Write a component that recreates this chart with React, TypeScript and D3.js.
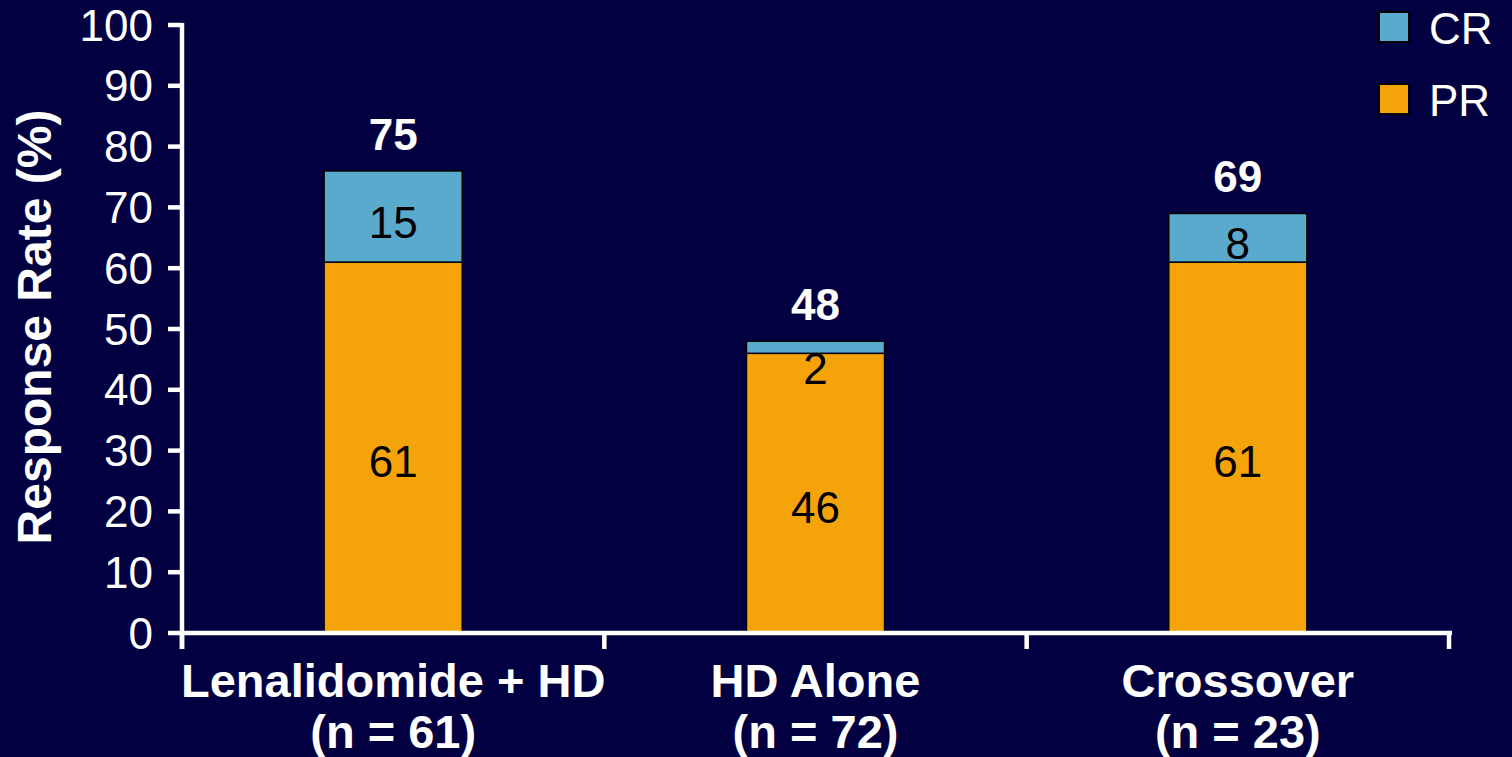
import React from "react";
import * as d3 from "d3";

// Response rates by treatment arm (%)
const groups = ["Lenalidomide + HD", "HD Alone", "Crossover"];
const groupN = ["(n = 61)", "(n = 72)", "(n = 23)"];
const prValues = [61, 46, 61];
const crValues = [15, 2, 8];
const totalLabels = [75, 48, 69];
const yTicks = [0, 10, 20, 30, 40, 50, 60, 70, 80, 90, 100];
const seriesNames = ["CR", "PR"];

const W = 1512;
const H = 757;
const BG = "#020040";
const CR_COLOR = "#5AAACE";
const PR_COLOR = "#F5A30B";
const FONT = "'Liberation Sans', Arial, Helvetica, sans-serif";

const margin = { left: 182, right: 63, top: 25, bottom: 124 };

export default function App() {
  const x = d3
    .scaleBand<string>()
    .domain(groups)
    .range([margin.left, W - margin.right])
    .padding(0);
  const y = d3
    .scaleLinear()
    .domain([0, 100])
    .range([H - margin.bottom, margin.top]);

  const barW = x.bandwidth() * 0.327;
  const y0 = y(0);
  const tickX = [...groups.map((g) => x(g)!), x(groups[groups.length - 1])! + x.bandwidth()];
  const colorOf: Record<string, string> = { CR: CR_COLOR, PR: PR_COLOR };

  return (
    <svg
      width={W}
      height={H}
      style={{ position: "absolute", left: 0, top: 0, display: "block" }}
      fontFamily={FONT}
    >
      <rect x={0} y={0} width={W} height={H} fill={BG} />

      {/* Bars */}
      {groups.map((g, i) => {
        const cx = x(g)! + x.bandwidth() / 2;
        const bx = cx - barW / 2;
        const prTop = y(prValues[i]);
        const crTop = y(prValues[i] + crValues[i]);
        const crH = prTop - crTop;
        const prMid = (prTop + y0) / 2;
        const crLabelY = crH < 30 ? prTop + 15 : (crTop + prTop) / 2 + 6;
        return (
          <g key={g}>
            <rect x={bx} y={prTop} width={barW} height={y0 - prTop} fill={PR_COLOR} stroke="#000" strokeWidth={1.5} />
            <rect x={bx} y={crTop} width={barW} height={crH} fill={CR_COLOR} stroke="#000" strokeWidth={1.5} />
            <text x={cx} y={prMid + 14} textAnchor="middle" dominantBaseline="central" fontSize={44} fill="#000">
              {prValues[i]}
            </text>
            <text x={cx} y={crLabelY} textAnchor="middle" dominantBaseline="central" fontSize={44} fill="#000">
              {crValues[i]}
            </text>
            <text x={cx} y={crTop - 21} textAnchor="middle" fontSize={44} fontWeight="bold" fill="#fff">
              {totalLabels[i]}
            </text>
          </g>
        );
      })}

      {/* Y axis */}
      <line x1={margin.left} x2={margin.left} y1={y(100) - 2} y2={y0 + 16} stroke="#fff" strokeWidth={4.5} />
      {yTicks.map((t) => (
        <g key={t}>
          <line x1={margin.left - 14} x2={margin.left} y1={y(t)} y2={y(t)} stroke="#fff" strokeWidth={4.5} />
          <text x={margin.left - 29} y={y(t)} textAnchor="end" dominantBaseline="central" fontSize={44} fill="#fff">
            {t}
          </text>
        </g>
      ))}
      <text
        transform={`translate(${51},${y(50) - 2}) rotate(-90)`}
        textAnchor="middle"
        fontSize={48}
        fontWeight="bold"
        fill="#fff"
      >
        Response Rate (%)
      </text>

      {/* X axis */}
      <line x1={margin.left - 2} x2={W - margin.right + 3} y1={y0} y2={y0} stroke="#fff" strokeWidth={4.5} />
      {tickX.map((tx, i) => (
        <line key={i} x1={tx} x2={tx} y1={y0} y2={y0 + 16} stroke="#fff" strokeWidth={4.5} />
      ))}
      {groups.map((g, i) => {
        const cx = x(g)! + x.bandwidth() / 2;
        return (
          <text key={g} x={cx} textAnchor="middle" fontSize={47} fontWeight="bold" fill="#fff">
            <tspan x={cx} y={697}>{g}</tspan>
            <tspan x={cx} y={748}>{groupN[i]}</tspan>
          </text>
        );
      })}

      {/* Legend */}
      {seriesNames.map((s, i) => (
        <g key={s} transform={`translate(1379,${12 + i * 72})`}>
          <rect x={0} y={0} width={30} height={30} fill={colorOf[s]} stroke="#000" strokeWidth={2} />
          <text x={50} y={32} fontSize={44} fill="#fff">
            {s}
          </text>
        </g>
      ))}
    </svg>
  );
}
